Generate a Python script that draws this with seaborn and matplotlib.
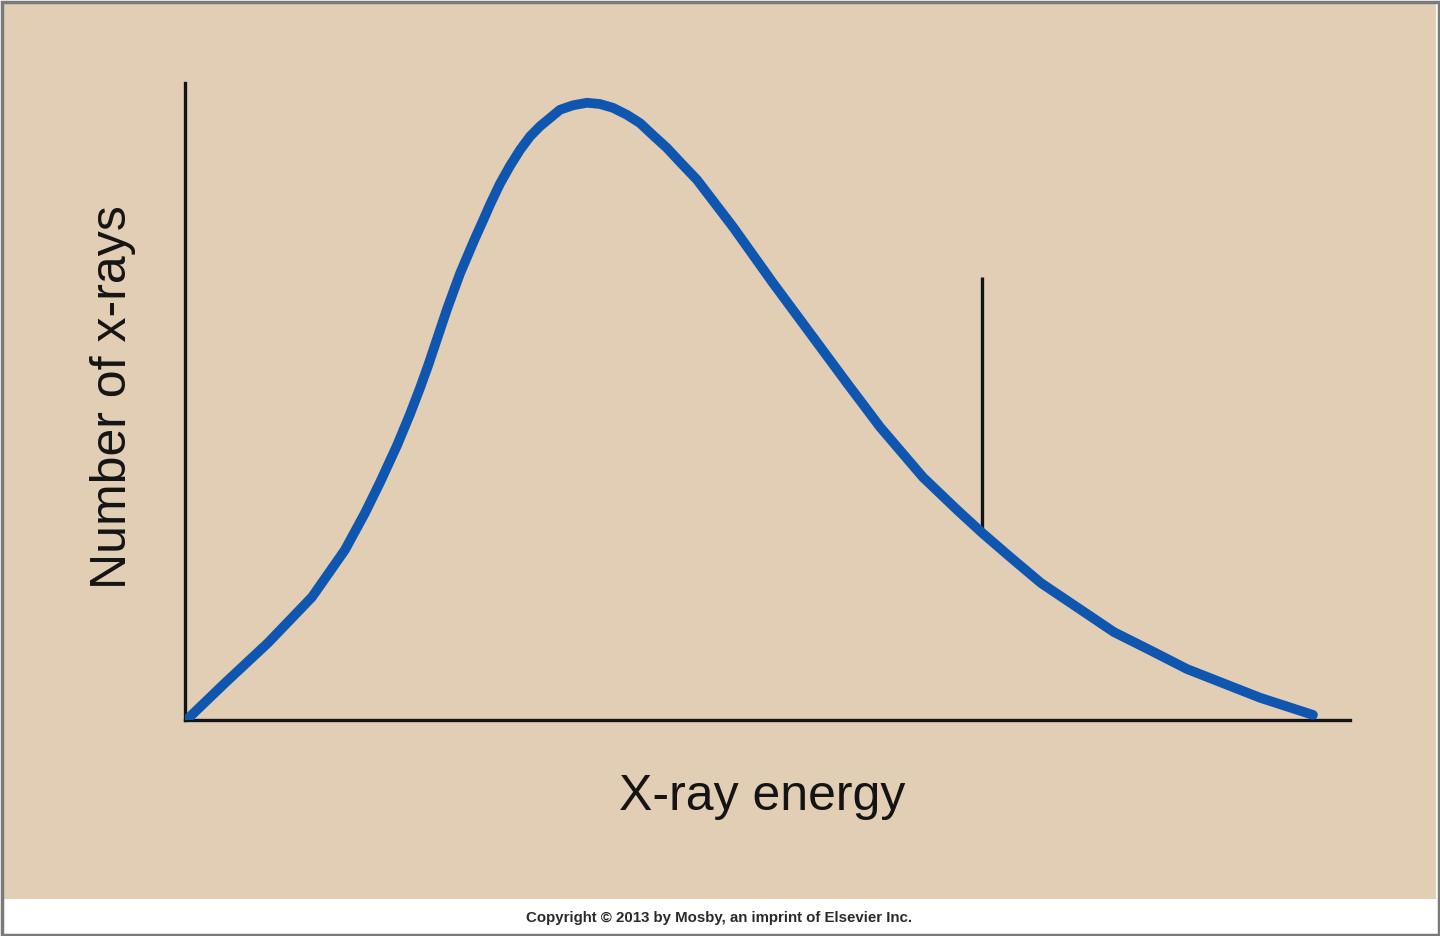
import matplotlib
matplotlib.use("Agg")
import matplotlib.pyplot as plt
from matplotlib.patches import Rectangle
from matplotlib import font_manager
import seaborn as sns
import pandas as pd

# ---- data (arbitrary units, 0-100 axes) ----
energy = [0.3, 3.43, 7.12, 10.90, 13.73, 15.45, 16.74, 18.20, 19.31, 20.17,
          20.86, 21.63, 22.49, 23.61, 24.89, 25.58, 26.18, 27.04, 27.90, 28.76,
          29.61, 30.47, 32.19, 33.30, 34.51, 35.62, 36.74, 37.94, 39.06, 40.17,
          41.37, 42.49, 43.95, 47.04, 50.47, 53.91, 56.82, 59.66, 63.35, 66.27,
          68.41, 70.82, 73.48, 79.74, 82.80, 86.01, 92.27, 96.82]
count = [0.3, 5.8, 12.1, 19.3, 26.7, 32.5, 37.3, 43.1, 48.0, 52.1,
         55.6, 59.8, 64.5, 70.1, 75.6, 78.4, 80.9, 84.2, 87.0, 89.5,
         91.6, 93.2, 95.8, 96.5, 96.9, 96.7, 96.1, 95.0, 93.7, 91.8,
         89.8, 87.6, 84.8, 77.4, 68.6, 60.1, 52.9, 46.0, 38.1, 33.0,
         29.4, 25.6, 21.5, 13.8, 11.0, 8.0, 3.5, 0.8]
marker_energy = [68.41]
marker_low = [29.4]
marker_high = [69.5]

x_label = "X-ray energy"
y_label = "Number of x-rays"
credit = "Copyright \u00a9 2013 by Mosby, an imprint of Elsevier Inc."

df = pd.DataFrame({"energy": energy, "count": count})

sns.set_theme(style="white")
plt.rcParams["font.family"] = ["Liberation Sans", "DejaVu Sans"]

BG = "#E2CEB4"
BLUE = "#0F56B0"
INK = "#141414"

W, H = 1440, 936
fig = plt.figure(figsize=(W / 100, H / 100), dpi=100)
fig.patch.set_facecolor("white")

# tan panel and grey frame
fig.patches.append(Rectangle((4 / W, 1 - 899 / H), (1436 - 4) / W, (899 - 4) / H,
                             transform=fig.transFigure, facecolor=BG,
                             edgecolor="none", zorder=-5))
fig.patches.append(Rectangle((1.5 / W, 1.5 / H), (W - 3) / W, (H - 3) / H,
                             transform=fig.transFigure, facecolor="none",
                             edgecolor="#7a7a7a", linewidth=2.5, zorder=10))

left, right, top, bottom = 185, 1350, 83, 720
ax = fig.add_axes([left / W, 1 - bottom / H, (right - left) / W, (bottom - top) / H])
ax.set_zorder(2)
ax.set_facecolor("none")
ax.patch.set_alpha(0)

sns.lineplot(data=df, x="energy", y="count", ax=ax, color=BLUE, linewidth=7,
             sort=False, solid_capstyle="round", solid_joinstyle="round",
             zorder=3)
ax.vlines(marker_energy, marker_low, marker_high, color=INK, linewidth=2.4,
          zorder=2)
ax.set_xlim(0, 100)
ax.set_ylim(0, 100)

for s in ("top", "right"):
    ax.spines[s].set_visible(False)
for s in ("left", "bottom"):
    ax.spines[s].set_color(INK)
    ax.spines[s].set_linewidth(2.4)
ax.set_xticks([])
ax.set_yticks([])
ax.set_xlabel("")
ax.set_ylabel("")

fig.text(762 / W, 1 - 797 / H, x_label, ha="center", va="center",
         fontsize=36, color=INK)
fig.text(113 / W, 1 - 397 / H, y_label, ha="center", va="center",
         rotation=90, fontsize=36, color=INK)

names = {f.name for f in font_manager.fontManager.ttflist}
cfam = "Liberation Sans Narrow" if "Liberation Sans Narrow" in names else "Liberation Sans"
fig.text(719 / W, 1 - 918 / H, credit, ha="center", va="center",
         fontsize=12.5 if cfam.endswith("Narrow") else 10.8, fontweight="bold",
         color="#2a2a2a", family=[cfam, "DejaVu Sans"])

fig.savefig("out.png", dpi=100, facecolor=fig.get_facecolor())
